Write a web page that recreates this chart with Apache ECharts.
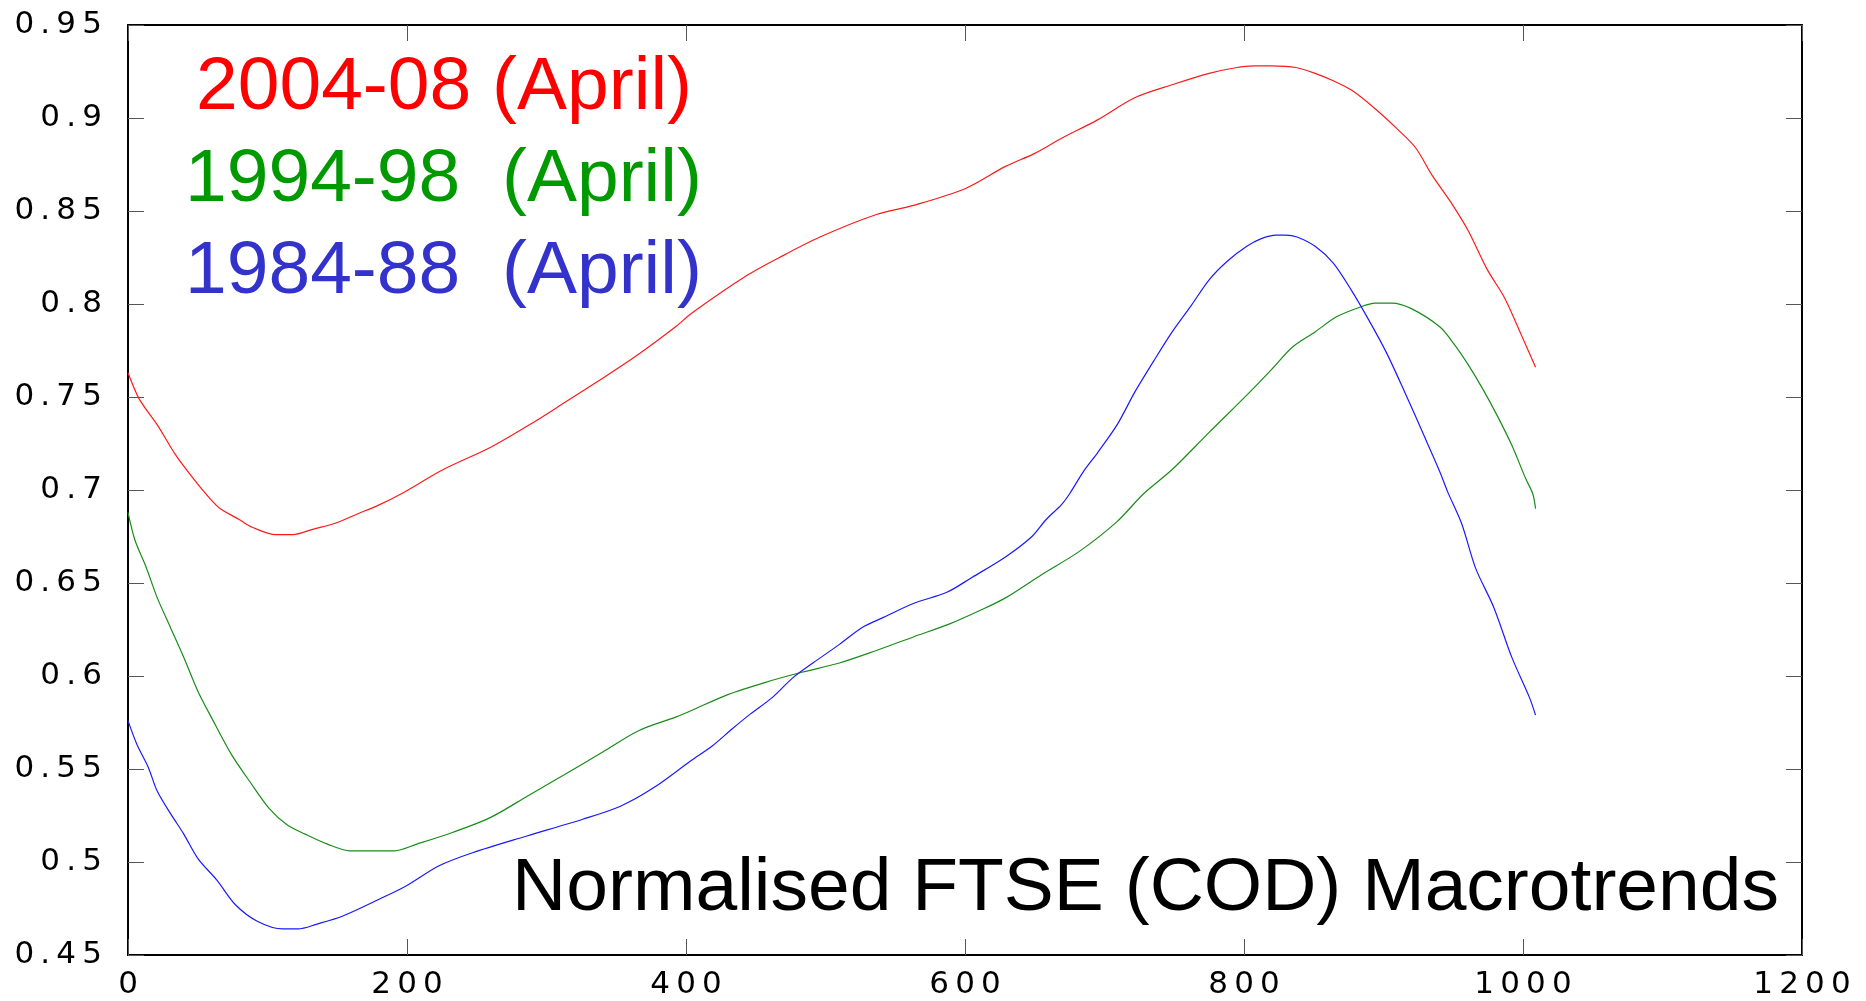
<!DOCTYPE html>
<html>
<head>
<meta charset="utf-8">
<script src="https://cdn.jsdelivr.net/npm/echarts@6/dist/echarts.min.js"></script>
<style>
html,body{margin:0;padding:0;background:#fff;}
#chart{width:1866px;height:1001px;}
</style>
</head>
<body>
<div id="chart"></div>
<script>
// ---- data ----
const xTickLabels = ['0','200','400','600','800','1000','1200'];
const yTickLabels = ['0.45','0.5','0.55','0.6','0.65','0.7','0.75','0.8','0.85','0.9','0.95'];

const seriesNames = ['2004-08 (April)', '1994-98  (April)', '1984-88  (April)'];
const titleText = 'Normalised FTSE (COD) Macrotrends';

const red0408X = [0,8,21,34,48,58,66,80,89,106,118,133,148,164,180,196,226,260,292,313,340,366,393,404,443,467,496,536,563,600,629,650,669,695,722,749,775,794,807,820,838,851,864,877,894,910,923,935,948,961,974,987,999,1009];
const red0408Y = [0.763,0.749,0.735,0.719,0.705,0.696,0.690,0.684,0.680,0.676,0.676,0.679,0.682,0.687,0.692,0.698,0.711,0.723,0.737,0.747,0.760,0.773,0.788,0.795,0.815,0.825,0.836,0.848,0.853,0.862,0.874,0.881,0.889,0.899,0.911,0.918,0.924,0.927,0.928,0.928,0.927,0.924,0.920,0.915,0.905,0.894,0.884,0.869,0.855,0.839,0.819,0.803,0.783,0.766];

const green9498X = [0,5,13,21,30.5,40,50,61,74,87.5,101,114,127,143,159,191,207,233,260,286.5,313,340,366,393,403.5,430,457,483,510,536,563,589,613,629,656,682,709,728,748.5,775,802,820,835,851,866,882,894,906,920,940.5,951,961,971,981.5,992,1002,1007,1009];
const green9498Y = [0.688,0.673,0.6585,0.642,0.626,0.610,0.592,0.576,0.558,0.543,0.529,0.520,0.515,0.5096,0.506,0.506,0.5096,0.516,0.524,0.5355,0.547,0.559,0.5706,0.578,0.5813,0.590,0.5966,0.602,0.607,0.6136,0.621,0.628,0.636,0.642,0.655,0.667,0.683,0.698,0.711,0.731,0.751,0.765,0.777,0.785,0.793,0.798,0.8005,0.8005,0.7975,0.7876,0.778,0.767,0.7545,0.740,0.724,0.706,0.698,0.690];

const blue8488X = [0,6.5,14.5,21,30.5,40,50,64,77,93,111,122,135,154,180,199,223,247,286,326,353,377,403.5,419,433,446,462,476.5,491,510,526,541.5,563,587,605,629,648,658,669,675,685,695,709,722,735,748.5,762,775,788,802,812,823,830,838,851,864,876.5,889,902,915,928,940.5,946,956,966,979,992,1004.6,1009];
const blue8488Y = [0.576,0.563,0.551,0.538,0.526,0.515,0.502,0.490,0.477,0.468,0.464,0.464,0.4665,0.471,0.480,0.487,0.498,0.505,0.514,0.523,0.530,0.540,0.5544,0.5625,0.5715,0.5795,0.5885,0.599,0.607,0.617,0.626,0.6315,0.639,0.645,0.653,0.664,0.675,0.684,0.692,0.698,0.710,0.720,0.735,0.753,0.769,0.785,0.799,0.813,0.823,0.831,0.835,0.837,0.837,0.836,0.831,0.822,0.808,0.792,0.774,0.753,0.731,0.7096,0.699,0.682,0.658,0.637,0.610,0.5885,0.579];

// ---- build ----
function zip(xs, ys){ return xs.map((x,i)=>[x, ys[i]]); }
function spaced(s){ return s.split('').join('\u2009'); }

const lineColors = ['#ff1a1a', '#1a8c1a', '#1a1aff'];
const textColors = ['#ff0000', '#009900', '#3333cc'];

const tickFont = {fontFamily:'DejaVu Sans', fontSize:31, color:'#000'};

function xAxisCfg(pos, showLabel){
  return {
    type:'value', position:pos, min:0, max:1200, interval:200,
    axisLine:{show:true, onZero:false, lineStyle:{color:'#000', width:2}},
    axisTick:{show:true, inside:true, length:16, lineStyle:{color:'#555', width:1}},
    axisLabel:Object.assign({show:showLabel, margin:14,
      formatter:(v)=>spaced(xTickLabels[Math.round(v/200)] || '')}, tickFont),
    splitLine:{show:false}
  };
}
function yAxisCfg(pos, showLabel){
  return {
    type:'value', position:pos, min:0.45, max:0.95, interval:0.05,
    axisLine:{show:true, onZero:false, lineStyle:{color:'#000', width:2}},
    axisTick:{show:true, inside:true, length:16, lineStyle:{color:'#555', width:1}},
    axisLabel:Object.assign({show:showLabel, margin:26,
      formatter:(v)=>spaced(yTickLabels[Math.round((v-0.45)/0.05)] || '')}, tickFont),
    splitLine:{show:false}
  };
}

const seriesData = [zip(red0408X, red0408Y), zip(green9498X, green9498Y), zip(blue8488X, blue8488Y)];

const bigFont = '75px "Liberation Sans", Arial, sans-serif';

const option = {
  animation:false,
  backgroundColor:'#fff',
  grid:{left:128, top:25, right:64, bottom:46, containLabel:false},
  xAxis:[xAxisCfg('bottom', true), xAxisCfg('top', false)],
  yAxis:[yAxisCfg('left', true), yAxisCfg('right', false)],
  series: seriesData.map((d,i)=>({
    name: seriesNames[i], type:'line', data:d, xAxisIndex:0, yAxisIndex:0,
    showSymbol:false, smooth:0.3,
    lineStyle:{color:lineColors[i], width:1.2}
  })),
  graphic:[
    {type:'text', left:196, top:51, style:{text:seriesNames[0], fill:textColors[0], font:bigFont}},
    {type:'text', left:185, top:143, style:{text:seriesNames[1], fill:textColors[1], font:bigFont}},
    {type:'text', left:185, top:235, style:{text:seriesNames[2], fill:textColors[2], font:bigFont}},
    {type:'text', right:1866-1779, top:852, style:{text:titleText, fill:'#000', font:bigFont}}
  ]
};

const chart = echarts.init(document.getElementById('chart'), null, {renderer:'canvas'});
chart.setOption(option);
</script>
</body>
</html>
